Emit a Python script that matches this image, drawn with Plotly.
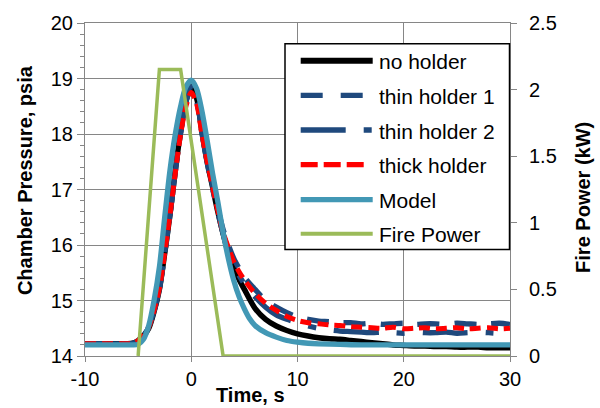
import plotly.graph_objects as go

# ---------------- data ----------------
t_exp = [-10, -8, -6, -5.5, -5, -4.5, -4, -3.5, -3, -2.5, -2, -1.5, -1, -0.5, 0,
         0.5, 1, 1.5, 2, 2.5, 3, 3.5, 4, 4.5, 5, 6, 7, 8, 9, 10, 11, 12, 13, 14,
         15, 16, 17, 18, 19, 20, 21, 22, 23, 24, 25, 26, 27, 28, 29, 30]

p_no_holder = [14.22, 14.22, 14.22, 14.23, 14.27, 14.36, 14.50, 14.80, 15.20, 15.85, 16.55, 17.35, 18.05, 18.60, 18.85,
               18.65, 18.05, 17.50, 17.05, 16.60, 16.20, 15.85, 15.58, 15.38, 15.20, 14.86, 14.66, 14.54, 14.46, 14.40, 14.36, 14.33, 14.31, 14.30,
               14.28, 14.26, 14.24, 14.22, 14.20, 14.19, 14.18, 14.18, 14.17, 14.17, 14.16, 14.16, 14.16, 14.15, 14.15, 14.15]

p_thin1 = [14.22, 14.22, 14.22, 14.23, 14.28, 14.38, 14.52, 14.82, 15.22, 15.85, 16.55, 17.32, 18.02, 18.58, 18.85,
           18.62, 18.05, 17.52, 17.08, 16.66, 16.28, 16.00, 15.76, 15.58, 15.42, 15.20, 15.00, 14.88, 14.78, 14.70, 14.66, 14.63, 14.62, 14.60,
           14.60, 14.58, 14.59, 14.57, 14.58, 14.59, 14.57, 14.58, 14.58, 14.57, 14.59, 14.58, 14.57, 14.58, 14.59, 14.57]

p_thin2 = [14.22, 14.22, 14.22, 14.23, 14.27, 14.37, 14.51, 14.81, 15.21, 15.85, 16.55, 17.33, 18.03, 18.58, 18.82,
           18.60, 18.02, 17.48, 17.02, 16.60, 16.20, 15.90, 15.64, 15.45, 15.30, 15.07, 14.88, 14.74, 14.66, 14.60, 14.54, 14.50, 14.47, 14.45,
           14.44, 14.43, 14.42, 14.43, 14.42, 14.41, 14.43, 14.42, 14.42, 14.43, 14.41, 14.42, 14.43, 14.42, 14.41, 14.42]

p_thick = [14.22, 14.22, 14.22, 14.23, 14.28, 14.38, 14.52, 14.82, 15.22, 15.85, 16.55, 17.30, 18.00, 18.50, 18.75,
           18.55, 18.00, 17.50, 17.05, 16.62, 16.23, 15.95, 15.70, 15.52, 15.37, 15.13, 14.95, 14.82, 14.71, 14.64, 14.60, 14.58, 14.56, 14.55,
           14.53, 14.52, 14.51, 14.50, 14.52, 14.49, 14.50, 14.51, 14.49, 14.50, 14.51, 14.49, 14.50, 14.51, 14.49, 14.50]

t_model = [-10, -6, -5.5, -5, -4.5, -4, -3.5, -3, -2.5, -2, -1.5, -1, -0.5, 0, 0.5, 1, 1.5, 2, 2.5,
           3, 3.5, 4, 4.5, 5, 5.5, 6, 7, 8, 9, 10, 11, 12, 14, 16, 18, 20, 25, 30]
p_model = [14.20, 14.20, 14.20, 14.21, 14.30, 14.55, 15.00, 15.60, 16.50, 17.35, 18.00, 18.50, 18.85, 18.97, 18.82, 18.42, 17.88, 17.30, 16.78,
           16.22, 15.75, 15.36, 15.07, 14.85, 14.67, 14.55, 14.42, 14.34, 14.28, 14.25, 14.23, 14.22, 14.21, 14.20, 14.20, 14.20, 14.20, 14.20]

t_fire = [-5, -3, -1, 3, 30]
p_fire = [0, 2.15, 2.15, 0, 0]

x_ticks = [-10, 0, 10, 20, 30]
x_tick_text = ["-10", "0", "10", "20", "30"]
series_names = ["no holder", "thin holder 1", "thin holder 2", "thick holder", "Model", "Fire Power"]

# ---------------- style ----------------
FONT = "Liberation Sans, Arial, sans-serif"
GRID = "#868686"
C_BLACK = "#000000"
C_BLUE = "#1F497D"
C_RED = "#FF0000"
C_TEAL = "#4298B5"
C_GREEN = "#9BBB59"

W, H = 600, 408
L, R, T, B = 85, 510, 19, 356  # plot area in pixels

def px(x):
    return (x - L) / (R - L)

def py(y):
    return (B - y) / (B - T)

fig = go.Figure()
fig.add_trace(go.Scatter(x=t_exp, y=p_no_holder, mode="lines", name=series_names[0],
                         line=dict(color=C_BLACK, width=5.5, shape="spline", smoothing=0.8)))
fig.add_trace(go.Scatter(x=t_exp, y=p_thin1, mode="lines", name=series_names[1],
                         line=dict(color=C_BLUE, width=5.3, dash="22px,15px", shape="spline", smoothing=0.8)))
fig.add_trace(go.Scatter(x=t_exp, y=p_thin2, mode="lines", name=series_names[2],
                         line=dict(color=C_BLUE, width=5.3, dash="45px,18px,8px,18px", shape="spline", smoothing=0.8)))
fig.add_trace(go.Scatter(x=t_exp, y=p_thick, mode="lines", name=series_names[3],
                         line=dict(color=C_RED, width=5, dash="11px,6px", shape="spline", smoothing=0.8)))
fig.add_trace(go.Scatter(x=t_model, y=p_model, mode="lines", name=series_names[4],
                         line=dict(color=C_TEAL, width=5.3, shape="spline", smoothing=0.8)))
fig.add_trace(go.Scatter(x=t_fire, y=p_fire, mode="lines", name=series_names[5], yaxis="y2",
                         line=dict(color=C_GREEN, width=3.5)))

# ---------------- custom legend ----------------
shapes = []
annotations = []
shapes.append(dict(type="rect", xref="paper", yref="paper", layer="above",
                   x0=px(285), x1=px(509.5), y0=py(248.3), y1=py(40),
                   line=dict(color="black", width=1.5), fillcolor="white"))
leg_specs = [
    (57.3, C_BLACK, 6, "solid", 372.7),
    (92.3, C_BLUE, 5.3, "22px,18px", 372.7),
    (127.3, C_BLUE, 5.3, "45px,18px,8px,20px", 372.7),
    (162.3, C_RED, 5.3, "17px,6px", 364),
    (197.7, C_TEAL, 5.3, "solid", 372.7),
    (232.3, C_GREEN, 4.2, "solid", 372.7),
]
for name, (yy, col, wd, dash, xend) in zip(series_names, leg_specs):
    shapes.append(dict(type="line", xref="paper", yref="paper", layer="above",
                       x0=px(300.7), x1=px(xend), y0=py(yy), y1=py(yy),
                       line=dict(color=col, width=wd, dash=dash)))
    annotations.append(dict(text=name, xref="paper", yref="paper", x=px(377), y=py(yy + 1),
                            xanchor="left", yanchor="middle", showarrow=False,
                            font=dict(family=FONT, size=21, color="black")))

# axis titles
annotations.append(dict(text="<b>Time, s</b>", xref="paper", yref="paper", x=px(250), y=py(395),
                        xanchor="center", yanchor="middle", showarrow=False,
                        font=dict(family=FONT, size=20, color="black")))
annotations.append(dict(text="<b>Chamber Pressure, psia</b>", xref="paper", yref="paper", x=px(25), y=py(178),
                        xanchor="center", yanchor="middle", showarrow=False, textangle=-90,
                        font=dict(family=FONT, size=20, color="black")))
annotations.append(dict(text="<b>Fire Power (kW)</b>", xref="paper", yref="paper", x=px(583), y=py(196),
                        xanchor="center", yanchor="middle", showarrow=False, textangle=-90,
                        font=dict(family=FONT, size=20, color="black")))

fig.update_layout(
    width=W, height=H, autosize=False,
    margin=dict(l=L, r=W - R, t=T, b=H - B, pad=0),
    paper_bgcolor="white", plot_bgcolor="white",
    showlegend=False,
    font=dict(family=FONT, size=20, color="black"),
    xaxis=dict(range=[-10, 30], tickvals=x_ticks, ticktext=x_tick_text, showgrid=True, gridcolor=GRID, gridwidth=1,
               zeroline=False, showline=True, linecolor=GRID, linewidth=1, mirror=True,
               ticks="outside", ticklen=5, tickcolor=GRID,
               tickfont=dict(family=FONT, size=20, color="black")),
    yaxis=dict(range=[14, 20], dtick=1, showgrid=True, gridcolor=GRID, gridwidth=1,
               zeroline=False, showline=True, linecolor=GRID, linewidth=1,
               ticks="outside", ticklen=7, tickcolor=GRID,
               minor=dict(dtick=0.2, ticks="outside", ticklen=4, tickcolor=GRID, showgrid=False),
               tickfont=dict(family=FONT, size=20, color="black")),
    yaxis2=dict(range=[0, 2.5], dtick=0.5, overlaying="y", side="right", showgrid=False,
                zeroline=False, showline=True, linecolor=GRID, linewidth=1,
                ticks="outside", ticklen=6, tickcolor=GRID, ticklabelstandoff=8,
                tickfont=dict(family=FONT, size=20, color="black")),
    shapes=shapes,
    annotations=annotations,
)

fig.write_html("out.html", config={"displayModeBar": False, "staticPlot": True},
               post_script="document.body.style.margin='0px';document.body.style.padding='0px';")
